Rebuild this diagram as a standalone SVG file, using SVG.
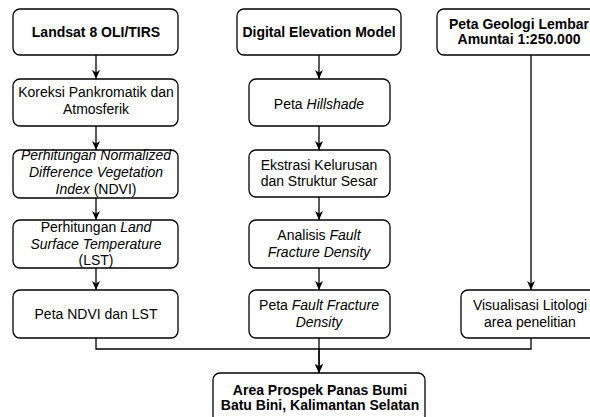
<svg xmlns="http://www.w3.org/2000/svg" width="590" height="417" viewBox="0 0 590 417">
<style>
.box{fill:#fff;stroke:#000;stroke-width:1.3}
text{font-family:"Liberation Sans",Arial,Helvetica,sans-serif;font-size:14px;fill:#000;text-anchor:middle}
.b{font-weight:bold}
.i{font-style:italic}
.edge{fill:none;stroke:#000;stroke-width:1.3}
</style>
<defs>
<marker id="arr" markerWidth="10" markerHeight="10" viewBox="0 0 10 10" refX="9" refY="5" orient="auto" markerUnits="userSpaceOnUse">
<path d="M0,1 L9,5 L0,9 L2.5,5 Z" fill="#000"/>
</marker>
</defs>
<g id="connectors">
<path class="edge" d="M96,55 V79" marker-end="url(#arr)"/>
<path class="edge" d="M96,126 V150" marker-end="url(#arr)"/>
<path class="edge" d="M96,198 V220" marker-end="url(#arr)"/>
<path class="edge" d="M96,268 V290" marker-end="url(#arr)"/>
<path class="edge" d="M319,55 V79" marker-end="url(#arr)"/>
<path class="edge" d="M319,126 V150" marker-end="url(#arr)"/>
<path class="edge" d="M319,197 V220" marker-end="url(#arr)"/>
<path class="edge" d="M319,268 V290" marker-end="url(#arr)"/>
<path class="edge" d="M531,55 V290" marker-end="url(#arr)"/>
<path class="edge" d="M96,338 V349 H319 V373" marker-end="url(#arr)"/>
<path class="edge" d="M319,338 V373" marker-end="url(#arr)"/>
<path class="edge" d="M531,338 V349 H319"/>
</g>
<g id="landsat">
<rect class="box" x="13" y="9" width="165" height="46" rx="7"/>
<text class="b" x="96" y="37">Landsat 8 OLI/TIRS</text>
</g>
<g id="koreksi">
<rect class="box" x="13" y="79" width="165" height="47" rx="7"/>
<text x="96" y="97">Koreksi Pankromatik dan</text>
<text x="96" y="114">Atmosferik</text>
</g>
<g id="ndvi">
<rect class="box" x="13" y="150" width="165" height="48" rx="7"/>
<text x="96" y="160"><tspan class="i">Perhitungan Normalized</tspan></text>
<text x="96" y="177"><tspan class="i">Difference Vegetation</tspan></text>
<text x="96" y="193.5"><tspan class="i">Index</tspan> (NDVI)</text>
</g>
<g id="lst">
<rect class="box" x="13" y="220" width="165" height="48" rx="7"/>
<text x="96" y="231.5">Perhitungan <tspan class="i">Land</tspan></text>
<text x="96" y="248.5"><tspan class="i">Surface Temperature</tspan></text>
<text x="96" y="264.5">(LST)</text>
</g>
<g id="peta-ndvi">
<rect class="box" x="13" y="290" width="165" height="48" rx="7"/>
<text x="96" y="318.5">Peta NDVI dan LST</text>
</g>
<g id="dem">
<rect class="box" x="237" y="9" width="164" height="46" rx="7"/>
<text class="b" x="319" y="37">Digital Elevation Model</text>
</g>
<g id="hillshade">
<rect class="box" x="249" y="79" width="141" height="47" rx="7"/>
<text x="319" y="108.5">Peta <tspan class="i">Hillshade</tspan></text>
</g>
<g id="ekstrasi">
<rect class="box" x="249" y="150" width="141" height="47" rx="7"/>
<text x="319" y="169.5">Ekstrasi Kelurusan</text>
<text x="319" y="186">dan Struktur Sesar</text>
</g>
<g id="analisis">
<rect class="box" x="249" y="220" width="141" height="48" rx="7"/>
<text x="319" y="240">Analisis <tspan class="i">Fault</tspan></text>
<text x="319" y="256.5"><tspan class="i">Fracture Density</tspan></text>
</g>
<g id="peta-fault">
<rect class="box" x="249" y="290" width="141" height="48" rx="7"/>
<text x="319" y="310">Peta <tspan class="i">Fault Fracture</tspan></text>
<text x="319" y="326.5"><tspan class="i">Density</tspan></text>
</g>
<g id="geologi">
<rect class="box" x="437" y="9" width="164" height="46" rx="7"/>
<text class="b" x="519" y="28.5">Peta Geologi Lembar</text>
<text class="b" x="519" y="44">Amuntai 1:250.000</text>
</g>
<g id="visualisasi">
<rect class="box" x="461" y="290" width="139" height="48" rx="7"/>
<text x="530" y="310">Visualisasi Litologi</text>
<text x="530" y="326.5">area penelitian</text>
</g>
<g id="area-prospek">
<rect class="box" x="213" y="373" width="212" height="50" rx="7"/>
<text class="b" x="320" y="394.5">Area Prospek Panas Bumi</text>
<text class="b" x="320" y="409.5">Batu Bini, Kalimantan Selatan</text>
</g>
</svg>
